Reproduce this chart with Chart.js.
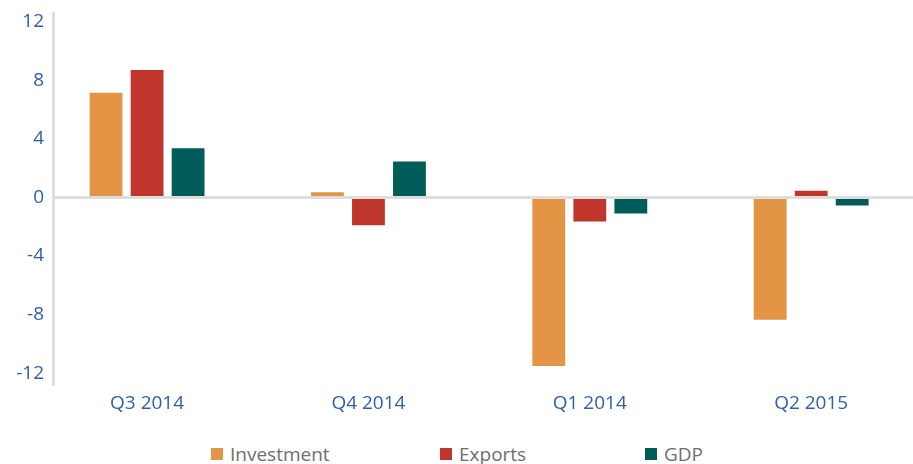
<!DOCTYPE html>
<html lang="en">
<head>
  <meta charset="UTF-8" />
  <title>Investment, Exports and GDP</title>
  <script src="https://cdn.jsdelivr.net/npm/chart.js"></script>
  <style>
    html, body {
      margin: 0;
      padding: 0;
      background: #fff;
      font-family: 'Open Sans', sans-serif;
    }
    .wrap {
      position: relative;
      width: 913px;
      height: 430px;
    }
    .legend {
      position: relative;
      width: 913px;
      height: 34px;
      color: #6e6e6e;
      font-size: 19px;
    }
    .legend span.item {
      position: absolute;
      top: 12px;
      display: flex;
      align-items: center;
      line-height: 24px;
    }
    .legend i {
      display: inline-block;
      width: 12px;
      height: 12px;
      margin-right: 7px;
    }
  </style>
</head>
<body>
  <div class="wrap"><canvas id="chart"></canvas></div>
  <div class="legend" id="legend"></div>

  <script>
    const categories = ["Q3 2014", "Q4 2014", "Q1 2014", "Q2 2015"];
    const investment = [7.15, 0.35, -11.5, -8.35];
    const exportsData = [8.7, -1.9, -1.65, 0.45];
    const gdp = [3.35, 2.45, -1.1, -0.55];
    const yTicks = [-12, -8, -4, 0, 4, 8, 12];

    const seriesNames = ["Investment", "Exports", "GDP"];
    const colors = ["#e39444", "#c1362c", "#005c58"];
    const legendLeft = [211, 440, 645];

    const blue = "#2f5fa7";
    const grey = "#dedede";

    function points(arr) {
      return arr.map((v, i) => ({ x: i, y: v }));
    }

    const datasets = [investment, exportsData, gdp].map((arr, i) => ({
      label: seriesNames[i],
      data: points(arr),
      backgroundColor: colors[i],
      borderWidth: 0,
      categoryPercentage: 0.556,
      barPercentage: 0.8
    }));

    const chart = new Chart(document.getElementById("chart"), {
      type: "bar",
      data: { datasets: datasets },
      options: {
        responsive: true,
        maintainAspectRatio: false,
        animation: false,
        layout: { padding: { top: 0, right: 0, bottom: 15, left: 0 } },
        plugins: {
          legend: { display: false },
          tooltip: { enabled: false }
        },
        scales: {
          x: {
            type: "linear",
            offset: false,
            min: -0.425,
            max: 3.46,
            afterBuildTicks: s => { s.ticks = categories.map((c, i) => ({ value: i })); },
            grid: { display: false },
            border: { display: false },
            ticks: {
              color: blue,
              padding: 0,
              maxRotation: 0,
              font: { family: "'Open Sans', sans-serif", size: 19 },
              callback: v => categories[v] || ""
            }
          },
          y: {
            min: -12.75,
            max: 12.54,
            afterBuildTicks: s => { s.ticks = yTicks.map(v => ({ value: v })); },
            afterFit: s => { s.width = 53; },
            grid: {
              drawTicks: false,
              lineWidth: 3,
              color: ctx => (ctx.tick && ctx.tick.value === 0 ? grey : "rgba(0,0,0,0)")
            },
            border: { display: true, color: grey, width: 3 },
            ticks: {
              color: blue,
              padding: 9,
              font: { family: "'Open Sans', sans-serif", size: 19, lineHeight: 0.5 }
            }
          }
        }
      }
    });

    // legend drawn as html under the canvas
    const legend = document.getElementById("legend");
    seriesNames.forEach((name, i) => {
      const item = document.createElement("span");
      item.className = "item";
      item.style.left = legendLeft[i] + "px";
      item.innerHTML = '<i style="background:' + colors[i] + '"></i>' + name;
      legend.appendChild(item);
    });
  </script>
</body>
</html>
